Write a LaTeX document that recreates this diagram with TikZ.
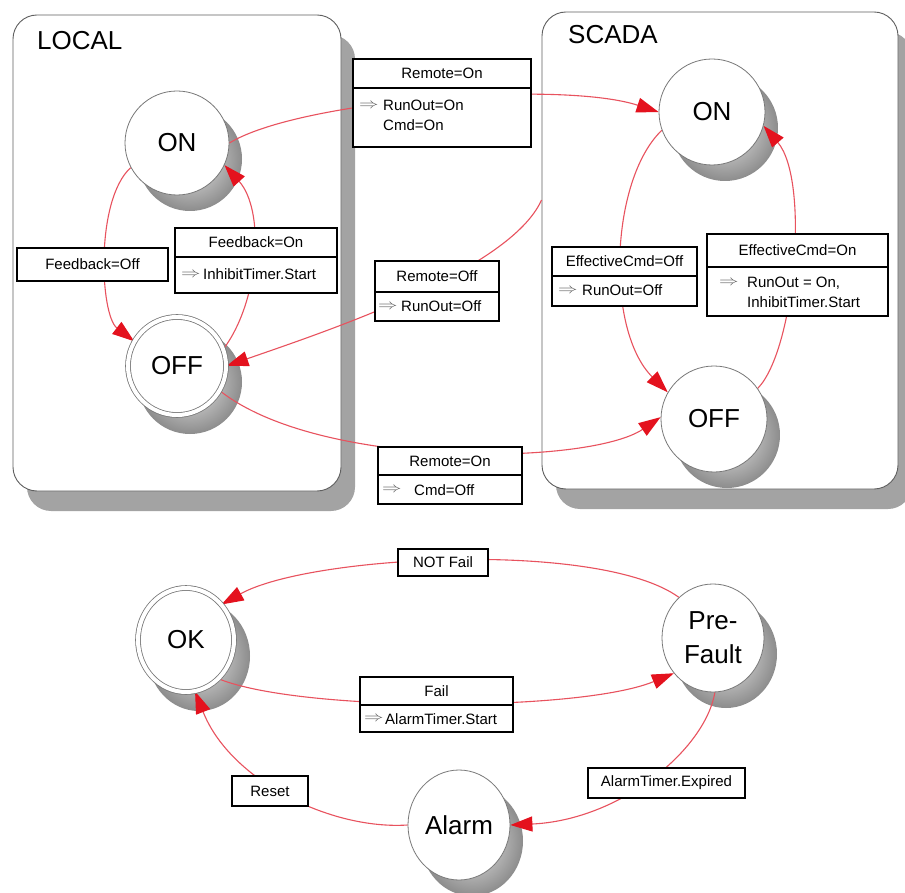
\documentclass[tikz,border=0pt]{standalone}
\usepackage{fontspec}
\usepackage{graphicx}
\setmainfont{Liberation Sans}
\usetikzlibrary{arrows.meta,shapes.geometric}

\definecolor{trline}{RGB}{232,82,94}
\definecolor{trhead}{RGB}{228,18,30}
\definecolor{panelrim}{RGB}{95,95,95}
\definecolor{stateRim}{RGB}{120,120,120}

\newcommand\thenarrow{\textcolor{black!65}{\scalebox{1.35}[1]{$\Rightarrow$}}}

\pgfdeclarelayer{panels}
\pgfdeclarelayer{shades}
\pgfdeclarelayer{edges}
\pgfsetlayers{panels,shades,edges,main}

\tikzset{
  panel/.style={draw=panelrim, line width=0.9pt, fill=white, rounded corners=24pt, inner sep=0pt},
  panelshade/.style={fill=black!36, rounded corners=24pt},
  paneltitle/.style={font=\fontsize{26}{30}\selectfont, inner sep=0pt, anchor=base west},
  state/.style={circle, draw=stateRim, line width=0.8pt, fill=white, minimum size=104pt,
    inner sep=0pt, align=center, font=\fontsize{26}{34}\selectfont},
  ostate/.style={ellipse, draw=stateRim, line width=0.8pt, fill=white, minimum width=102pt,
    minimum height=108pt, inner sep=0pt, align=center, font=\fontsize{26}{34}\selectfont},
  final/.style={double=white, double distance=4pt},
  stshade/.style={inner color=black!8, outer color=black!45},
  trans/.style={draw=trline, line width=1.1pt, -{Triangle[length=22pt,width=15pt,color=trhead]}},
  tbox/.style={draw=black, line width=1.3pt, fill=white, inner sep=0pt},
  tline/.style={draw=black, line width=1.3pt},
  ttext/.style={font=\fontsize{15}{18}\selectfont, inner sep=0pt},
}

\begin{document}
\begin{tikzpicture}[x=1pt,y=-1pt]
\useasboundingbox (0,0) rectangle (905,893);

% ---------- page and superstate panels ----------
\begin{pgfonlayer}{panels}
  \fill[white] (0,0) rectangle (905,893);
  \fill[panelshade] (27,35) rectangle (355,511);
  \fill[panelshade] (556,32) rectangle (912,509);
  \node[panel, minimum width=328pt, minimum height=476pt] (local) at (177,253) {};
  \node[panel, minimum width=356pt, minimum height=477pt] (scada) at (720,250.5) {};
\end{pgfonlayer}
\node[paneltitle] (localT) at (37,50) {LOCAL};
\node[paneltitle] (scadaT) at (568,44) {SCADA};

% ---------- states ----------
\node[state] (lon) at (177,143) {ON};
\node[state, final, minimum size=98pt] (lof) at (177,366) {OFF};
\node[state, minimum size=106pt] (son) at (712,112) {ON};
\node[state, minimum size=106pt] (sof) at (714,419) {OFF};
\node[ostate, final, minimum width=96pt, minimum height=104pt] (ok) at (186,640) {OK};
\node[ostate] (pf) at (713,638) {Pre-\\Fault};
\node[ostate, minimum height=110pt] (al) at (459,825) {Alarm};

% ---------- state shadows ----------
\begin{pgfonlayer}{shades}
  \shade[stshade] ([shift={(13,16)}]lon.center) circle[radius=52];
  \shade[stshade] ([shift={(13,16)}]lof.center) circle[radius=52];
  \shade[stshade] ([shift={(13,16)}]son.center) circle[radius=53];
  \shade[stshade] ([shift={(13,16)}]sof.center) circle[radius=53];
  \shade[stshade] ([shift={(13,16)}]ok.center) ellipse[x radius=51, y radius=55];
  \shade[stshade] ([shift={(13,16)}]pf.center) ellipse[x radius=51, y radius=54];
  \shade[stshade] ([shift={(13,16)}]al.center) ellipse[x radius=51, y radius=55];
\end{pgfonlayer}

% ---------- transition labels (upper part) ----------
% LOCAL ON -> SCADA ON
\node[tbox, minimum width=178pt, minimum height=88pt] (rOn) at (442,103) {};
\draw[tline] (rOn.west |- 0,88) -- (rOn.east |- 0,88);
\node[ttext] (rOnH) at (442,73.5) {Remote=On};
\node[ttext, anchor=west] (rOnA) at (359,106) {\thenarrow};
\node[ttext, anchor=base west] (rOnB) at (383,111) {RunOut=On};
\node[ttext, anchor=base west] (rOnC) at (383,131) {Cmd=On};

% LOCAL ON -> LOCAL OFF
\node[tbox, minimum width=151pt, minimum height=33pt] (fbOff) at (92.5,264.5) {};
\node[ttext] (fbOffH) at (92.5,264.5) {Feedback=Off};

% LOCAL OFF -> LOCAL ON
\node[tbox, minimum width=162pt, minimum height=65pt] (fbOn) at (256,260.5) {};
\draw[tline] (fbOn.west |- 0,257) -- (fbOn.east |- 0,257);
\node[ttext] (fbOnH) at (256,242.5) {Feedback=On};
\node[ttext, anchor=west] (fbOnA) at (181,275) {\thenarrow};
\node[ttext, anchor=base west] (fbOnB) at (203,280) {InhibitTimer.Start};

% SCADA -> LOCAL OFF
\node[tbox, minimum width=124pt, minimum height=60pt] (rOff) at (437,291) {};
\draw[tline] (rOff.west |- 0,292) -- (rOff.east |- 0,292);
\node[ttext] (rOffH) at (437,276.5) {Remote=Off};
\node[ttext, anchor=west] (rOffA) at (378,306.5) {\thenarrow};
\node[ttext, anchor=base west] (rOffB) at (401,312) {RunOut=Off};

% LOCAL OFF -> SCADA OFF
\node[tbox, minimum width=144pt, minimum height=57pt] (rOnB2) at (450,475.5) {};
\draw[tline] (rOnB2.west |- 0,475) -- (rOnB2.east |- 0,475);
\node[ttext] (rOnB2H) at (450,461) {Remote=On};
\node[ttext, anchor=west] (rOnB2A) at (382,489.5) {\thenarrow};
\node[ttext, anchor=base west] (rOnB2B) at (414,495) {Cmd=Off};

% SCADA ON -> SCADA OFF
\node[tbox, minimum width=145pt, minimum height=59pt] (eOff) at (624.5,276.5) {};
\draw[tline] (eOff.west |- 0,276) -- (eOff.east |- 0,276);
\node[ttext] (eOffH) at (624.5,261.5) {EffectiveCmd=Off};
\node[ttext, anchor=west] (eOffA) at (558,291) {\thenarrow};
\node[ttext, anchor=base west] (eOffB) at (582,296) {RunOut=Off};

% SCADA OFF -> SCADA ON
\node[tbox, minimum width=181pt, minimum height=82pt] (eOn) at (797.5,275) {};
\draw[tline] (eOn.west |- 0,267) -- (eOn.east |- 0,267);
\node[ttext] (eOnH) at (797.5,250.5) {EffectiveCmd=On};
\node[ttext, anchor=west] (eOnA) at (719,283) {\thenarrow};
\node[ttext, anchor=base west] (eOnB) at (747,288) {RunOut = On,};
\node[ttext, anchor=base west] (eOnC) at (747,308) {InhibitTimer.Start};

% ---------- transition labels (lower part) ----------
\node[tbox, minimum width=90pt, minimum height=27pt] (notFail) at (443,562.5) {};
\node[ttext] (notFailH) at (443,562.5) {NOT Fail};

\node[tbox, minimum width=153pt, minimum height=55pt] (fail) at (436.5,704.5) {};
\draw[tline] (fail.west |- 0,705) -- (fail.east |- 0,705);
\node[ttext] (failH) at (436.5,691) {Fail};
\node[ttext, anchor=west] (failA) at (364,719) {\thenarrow};
\node[ttext, anchor=base west] (failB) at (385,724) {AlarmTimer.Start};

\node[tbox, minimum width=76pt, minimum height=30pt] (reset) at (270,791) {};
\node[ttext] (resetH) at (270,791) {Reset};

\node[tbox, minimum width=157pt, minimum height=30pt] (expired) at (666.5,783) {};
\node[ttext] (expiredH) at (666.5,783) {AlarmTimer.Expired};

% ---------- transitions ----------
\coordinate (scadaIn) at (scada.west |- 0,200);
\begin{pgfonlayer}{edges}
  \draw[trans] (lon.east) .. controls (300,100) and (560,80) .. (son.west);
  \draw[trans] (scadaIn) .. controls (510,270) and (330,330) .. (lof.east);
  \draw[trans] (lof.330) .. controls (320,470) and (590,465) .. (sof.178);
  \draw[trans] (lon.208) .. controls (95,200) and (100,315) .. (lof.150);
  \draw[trans] (lof.20) .. controls (260,300) and (265,210) .. (lon.335);
  \draw[trans] (son.200) .. controls (610,180) and (605,330) .. (sof.150);
  \draw[trans] (sof.35) .. controls (795,350) and (810,180) .. (son.345);

  \draw[trans] (pf.130) .. controls (600,540) and (310,555) .. (ok.45);
  \draw[trans] (ok.310) .. controls (300,712) and (580,712) .. (pf.222);
  \draw[trans] (pf.272) .. controls (705,750) and (620,820) .. (al.east);
  \draw[trans] (al.west) .. controls (330,830) and (230,780) .. (ok.280);
\end{pgfonlayer}
\end{tikzpicture}
\end{document}
